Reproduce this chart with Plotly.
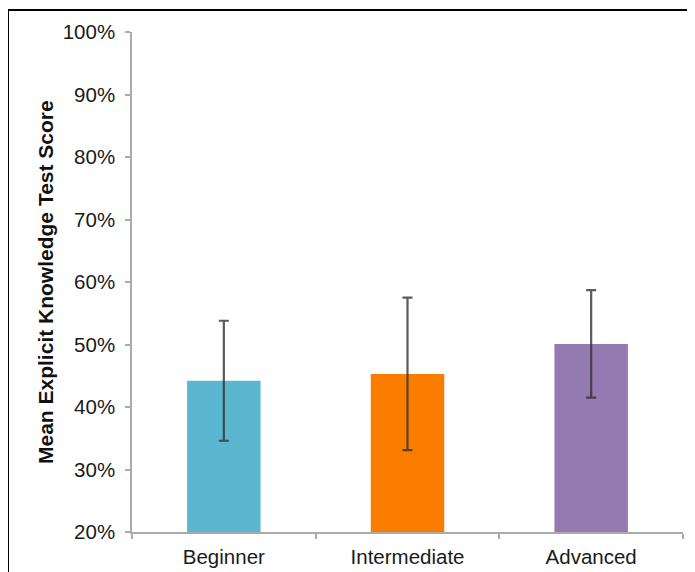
import plotly.graph_objects as go

categories = ["Beginner", "Intermediate", "Advanced"]
mean_scores = [0.442, 0.453, 0.501]
error_sd = [0.096, 0.122, 0.086]
bar_colors = ["#5BB7CF", "#FA7D00", "#937AB0"]
y_tick_values = [0.2, 0.3, 0.4, 0.5, 0.6, 0.7, 0.8, 0.9, 1.0]
y_title = "Mean Explicit Knowledge Test Score"

# page body has an 8px margin: compensate so the plot lands where intended
OFF = 8
W, H = 695 - OFF, 572 - OFF
L, R, T, B = 132 - OFF, 12, 32 - OFF, 40
pw, ph = W - L - R, H - T - B


def px_x(x):
    return (x - OFF - L) / pw


def px_y(y):
    return (H - B - (y - OFF)) / ph


fig = go.Figure()
fig.add_trace(go.Bar(
    x=categories,
    y=mean_scores,
    marker=dict(color=bar_colors, line=dict(width=0)),
    error_y=dict(type="data", array=error_sd, visible=True,
                 color="rgba(50,50,50,0.8)", thickness=2.2, width=5),
    width=0.4,
))

font_family = "Liberation Sans, Arial, sans-serif"

fig.update_layout(
    width=W, height=H,
    margin=dict(l=L, r=R, t=T, b=B, autoexpand=False),
    paper_bgcolor="white",
    plot_bgcolor="white",
    showlegend=False,
    font=dict(family=font_family, color="#1a1a1a", size=20),
    xaxis=dict(
        type="category",
        showline=True, linecolor="#ababab", linewidth=1.5,
        ticks="outside", tickson="boundaries", ticklen=5, tickcolor="#ababab",
        tickwidth=1.5,
        showgrid=False, zeroline=False,
        tickfont=dict(size=20.5, color="#1a1a1a"),
        ticklabelstandoff=6,
    ),
    yaxis=dict(
        range=[0.2, 1.0],
        tickvals=y_tick_values,
        tickformat=".0%",
        showline=True, linecolor="#ababab", linewidth=1.5,
        ticks="outside", ticklen=5, tickcolor="#ababab", tickwidth=1.5,
        showgrid=False, zeroline=False,
        tickfont=dict(size=20.5, color="#1a1a1a"),
        ticklabelstandoff=6,
    ),
)

fig.add_annotation(
    text="<b>" + y_title + "</b>",
    xref="paper", yref="paper",
    x=px_x(45), y=px_y(282),
    showarrow=False, textangle=-90,
    font=dict(size=21, family=font_family, color="#111111"),
    xanchor="center", yanchor="middle",
)

# document frame around the chart (clipped at right and bottom)
fig.add_shape(type="line", xref="paper", yref="paper",
              x0=px_x(8), x1=px_x(700),
              y0=px_y(10), y1=px_y(10),
              line=dict(color="black", width=2))
fig.add_shape(type="line", xref="paper", yref="paper",
              x0=px_x(8), x1=px_x(8),
              y0=px_y(10), y1=px_y(580),
              line=dict(color="black", width=2))

fig.write_html("out.html")
